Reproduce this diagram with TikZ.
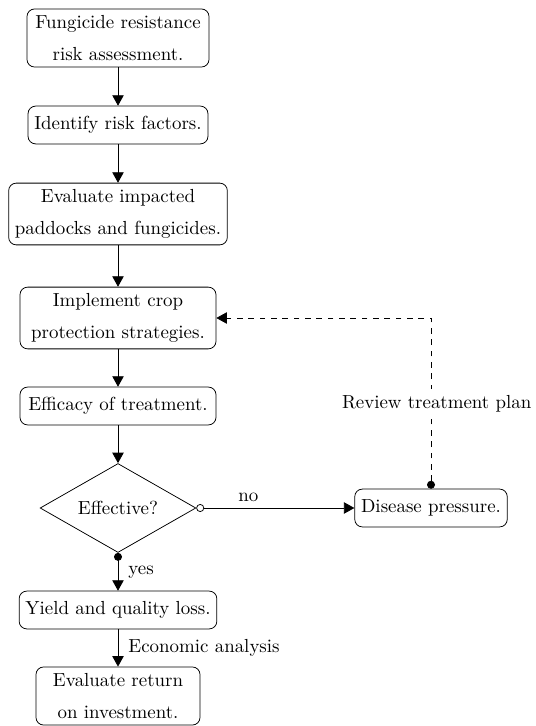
\documentclass[tikz,border=0pt]{standalone}
\usetikzlibrary{shapes.geometric,arrows.meta}

\begin{document}
\begin{tikzpicture}[x=0.529pt, y=-0.529pt,
  stepBox/.style={draw, rounded corners=4pt, align=center, minimum height=2em},
  decisionBox/.style={draw, diamond, aspect=1.75, inner sep=5pt},
  flowArrow/.style={-{Triangle[length=5.5pt,width=6pt]}},
  sideLabel/.style={right, xshift=2pt}]
\useasboundingbox (0,0) rectangle (535,726);
\newcommand{\nX}{118}

\node[stepBox, minimum width=182*0.529pt] (nRisk) at (\nX, 38) {Fungicide resistance\\[5pt] risk assessment.};
\node[stepBox] (nFactors) at (\nX, 125) {Identify risk factors.};
\node[stepBox] (nPaddocks) at (\nX, 214) {Evaluate impacted\\[5pt] paddocks and fungicides.};
\node[stepBox, minimum width=196*0.529pt] (nStrategy) at (\nX, 318) {Implement crop\\[5pt] protection strategies.};
\node[stepBox, minimum width=196*0.529pt] (nEfficacy) at (\nX, 406) {Efficacy of treatment.};
\node[decisionBox] (nEffective) at (\nX, 508) {Effective?};
\node[stepBox] (nPressure) at (431, 508) {Disease pressure.};
\node[stepBox] (nLoss) at (\nX, 610) {Yield and quality loss.};
\node[stepBox, minimum width=164*0.529pt] (nReturn) at (\nX, 696) {Evaluate return\\[5pt] on investment.};

\foreach \u/\v in {nRisk/nFactors, nFactors/nPaddocks, nPaddocks/nStrategy, nStrategy/nEfficacy, nEfficacy/nEffective}
{
    \draw [flowArrow](\u)--(\v);
};
\draw [{Circle[open,length=4.2pt]}-{Triangle[length=5.5pt,width=6pt]}] (nEffective.east) -- node[above, pos=0.33]{no} (nPressure);
\draw [{Circle[length=4.2pt]}-{Triangle[length=5.5pt,width=6pt]}] (nEffective.south) -- node[sideLabel]{yes} (nLoss);
\draw [flowArrow] (nLoss) -- node[sideLabel]{Economic analysis} (nReturn);
\draw [dashed, {Circle[length=4.2pt]}-{Triangle[length=5.5pt,width=6pt]}] (nPressure.north) |- node[pos=0.25, fill=white, xshift=3pt]{Review treatment plan} (nStrategy.east);

\end{tikzpicture}
\end{document}
